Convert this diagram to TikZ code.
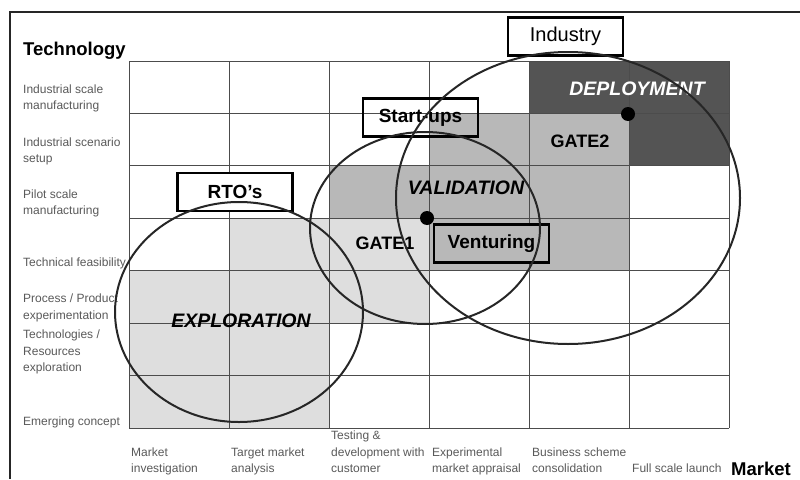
\documentclass[tikz,border=0pt]{standalone}
\usepackage{fontspec}
\setmainfont{Liberation Sans}
\definecolor{lightcell}{gray}{0.87}
\definecolor{midcell}{gray}{0.72}
\definecolor{darkcell}{gray}{0.33}
\definecolor{axistext}{gray}{0.35}
\tikzset{
  rowtext/.style={anchor=west,align=left,inner sep=0pt,text=axistext,font=\fontsize{12}{16.5}\selectfont},
  coltext/.style={anchor=south west,align=left,inner sep=0pt,text depth=3pt,text=axistext,font=\fontsize{12}{16.5}\selectfont},
  axisname/.style={inner sep=0pt,font=\bfseries\fontsize{18.5}{20}\selectfont},
  actor/.style={draw,line width=2.4pt,minimum width=115pt,minimum height=38pt,inner sep=0pt,font=\bfseries\fontsize{19}{22}\selectfont},
  phase/.style={inner sep=0pt,font=\bfseries\itshape\fontsize{19.5}{22}\selectfont},
  gate/.style={inner sep=0pt,font=\bfseries\fontsize{18}{22}\selectfont},
  gridline/.style={line width=1pt,black!70},
  ring/.style={line width=2pt,black!85},
  gatedot/.style={circle,fill=black,minimum size=14pt,inner sep=0pt}
}
\begin{document}
\begin{tikzpicture}[x=1pt,y=-1pt]
    \useasboundingbox (0,0) rectangle (800,479);
    \draw[line width=2.5pt,black!85] (800,12) -- (10,12) -- (10,479);
    % cells
    \fill[lightcell] (129,270.7) rectangle (229,428);
    \fill[lightcell] (229,218.3) rectangle (329,428);
    \fill[lightcell] (329,218.3) rectangle (429,323.1);
    \fill[midcell] (329,165.9) rectangle (429,218.3);
    \fill[midcell] (429,113.4) rectangle (629,270.7);
    \fill[darkcell] (529,61) rectangle (629,113.4);
    \fill[darkcell] (629,61) rectangle (729,165.9);
    \foreach \x in {129,229,...,729}
        \draw[gridline] (\x,61) -- (\x,428);
    \foreach \i in {0,...,7}
        \draw[gridline] (129,61+52.43*\i) -- (729,61+52.43*\i);
    % axes
    \node[axisname,anchor=base west] (techaxis) at (23,55) {Technology};
    \node[axisname,anchor=base east] (marketaxis) at (791,475) {Market};
    \node[rowtext] (rowone) at (23,98.5) {Industrial scale\\manufacturing};
    \node[rowtext] (rowtwo) at (23,151.5) {Industrial scenario\\setup};
    \node[rowtext] (rowthree) at (23,203.5) {Pilot scale\\manufacturing};
    \node[rowtext] (rowfour) at (23,263) {Technical feasibility};
    \node[rowtext] (rowfive) at (23,308) {Process / Product\\experimentation};
    \node[rowtext] (rowsix) at (23,352) {Technologies /\\Resources\\exploration};
    \node[rowtext] (rowseven) at (23,422) {Emerging concept};
    \node[coltext] (colone) at (131,476) {Market\\investigation};
    \node[coltext] (coltwo) at (231,476) {Target market\\analysis};
    \node[coltext] (colthree) at (331,476) {Testing \&\\development with\\customer};
    \node[coltext] (colfour) at (432,476) {Experimental\\market appraisal};
    \node[coltext] (colfive) at (532,476) {Business scheme\\consolidation};
    \node[coltext] (colsix) at (632,476) {Full scale launch};
    % phases
    \node[phase] (exploration) at (241,321) {EXPLORATION};
    \node[phase] (validation) at (466,188) {VALIDATION};
    \node[phase,text=white] (deployment) at (637,89) {DEPLOYMENT};
    \node[gate] (gateone) at (385,243) {GATE1};
    \node[gate] (gatetwo) at (580,141) {GATE2};
    % actors
    \node[actor,fill=white,font=\fontsize{20}{22}\selectfont] (industry) at (565.5,36.5) {Industry};
    \node[actor] (startups) at (420.5,117.5) {Start-ups};
    \node[actor,fill=white] (rtos) at (235,192) {RTO's};
    \node[actor,fill=midcell] (venturing) at (491.5,243.5) {Venturing};
    \draw[ring] (239,312) ellipse [x radius=124pt, y radius=110pt];
    \draw[ring] (425,228) ellipse [x radius=115pt, y radius=96pt];
    \draw[ring] (568,198) ellipse [x radius=172pt, y radius=146pt];
    \node[gatedot] (gateonedot) at (427,218) {};
    \node[gatedot] (gatetwodot) at (628,114) {};
\end{tikzpicture}
\end{document}
